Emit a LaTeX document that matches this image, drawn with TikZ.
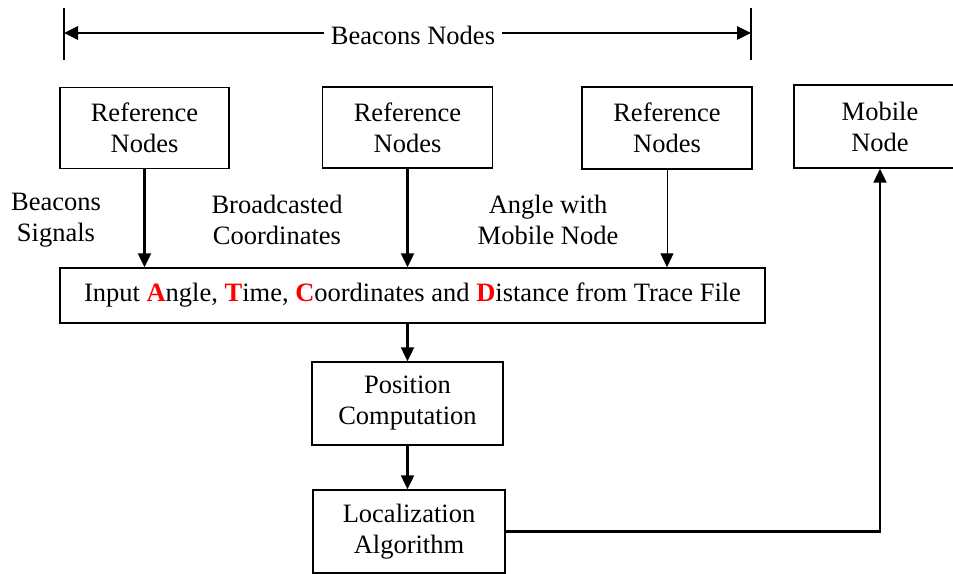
\documentclass[tikz,border=0pt]{standalone}
\usepackage{fontspec}
\setmainfont{Liberation Serif}
\usetikzlibrary{arrows.meta,positioning}

\newcommand\keyletter[1]{\textcolor{red}{\textbf{#1}}}

\tikzset{
  box/.style={draw, line width=1.4pt, align=center, inner sep=0pt},
  link/.style={line width=2.2pt, -{Triangle[length=14pt,width=13pt]}},
  note/.style={align=center, inner sep=0pt},
}

\begin{document}
\begin{tikzpicture}[x=1pt, y=-1pt, font=\fontsize{26.5}{31}\selectfont]
  \useasboundingbox (0,0) rectangle (953,573);

  % Span of the beacon nodes
  \draw[line width=1.2pt] (64,8) -- (64,60);
  \draw[line width=1.2pt] (751,8) -- (751,60);
  \coordinate (spanL) at (64,33);
  \coordinate (spanR) at (751,33);
  \node[fill=white, inner xsep=7pt] (span) at (413,35) {Beacons Nodes};
  \draw[link, line width=2.6pt] (span.west |- spanL) -- (spanL);
  \draw[link, line width=2.6pt] (span.east |- spanR) -- (spanR);

  % Top row
  \node[box, minimum width=169, minimum height=81] (ref1) at (144.5,128) {Reference\\Nodes};
  \node[box, minimum width=170, minimum height=81] (ref2) at (407.5,127.5) {Reference\\Nodes};
  \node[box, minimum width=170, minimum height=82] (ref3) at (667,128) {Reference\\Nodes};
  \node[box, minimum width=172, minimum height=83] (mobile) at (880,126.5) {Mobile\\Node};

  % Labels of the inputs
  \node[note] (sig) at (56,220) {Beacons\\Signals};
  \node[note] (coord) at (277,220) {Broadcasted\\Coordinates};
  \node[note] (angle) at (548,220) {Angle with\\Mobile Node};

  % Processing chain
  \node[box, minimum width=705, minimum height=55] (input) at (412.5,295.5)
    {Input \keyletter{A}ngle, \keyletter{T}ime, \keyletter{C}oordinates and \keyletter{D}istance from Trace File};
  \node[box, minimum width=191, minimum height=83] (pos) at (407.5,403.5) {Position\\Computation};
  \node[box, minimum width=192, minimum height=83] (loc) at (409,531.5) {Localization\\Algorithm};

  % Connectors
  \draw[link] (ref1.south) -- (ref1.south |- input.north);
  \draw[link] (ref2.south) -- (ref2.south |- input.north);
  \draw[link, line width=0.9pt] (ref3.south) -- (ref3.south |- input.north);
  \draw[link] (pos.north |- input.south) -- (pos.north);
  \draw[link] (pos.south) -- (pos.south |- loc.north);
  \draw[link] (loc.east) -| (mobile.south);
\end{tikzpicture}
\end{document}
